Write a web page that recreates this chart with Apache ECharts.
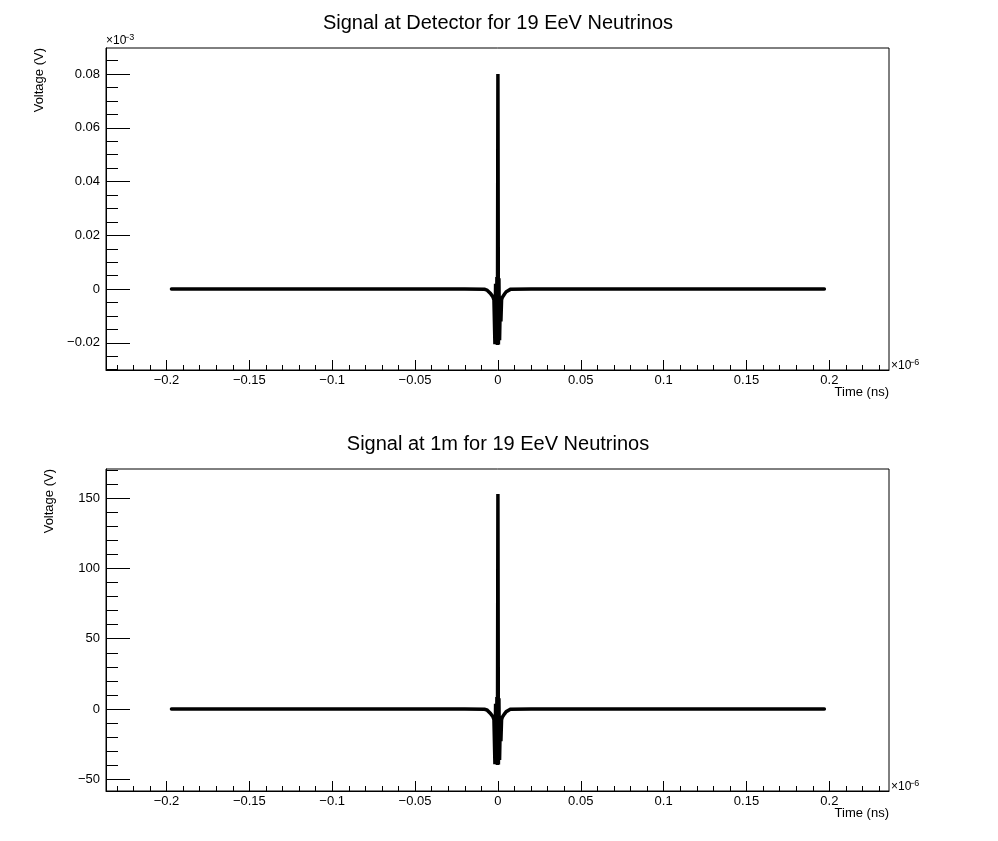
<!DOCTYPE html>
<html><head><meta charset="utf-8">
<script src="https://cdn.jsdelivr.net/npm/echarts@6/dist/echarts.min.js"></script>
<style>html,body{margin:0;padding:0;background:#fff}#c{width:998px;height:841px}</style>
</head><body><div id="c"></div>
<script>
// Time in units of 1e-6 ns (as shown with the x10^-6 multiplier)
const time = [-0.197, -0.1, -0.02, -0.008, -0.0065, -0.0055, -0.0045, -0.0037, -0.003, -0.0024, -0.0018, -0.0014, -0.001, -0.0006, -0.0003, 0, 0.0003, 0.0006, 0.001, 0.0014, 0.0018, 0.0022, 0.0027, 0.0033, 0.004, 0.005, 0.006, 0.0075, 0.02, 0.1, 0.197];
// Voltage at detector, units of 1e-3 V
const voltageDetector = [0, 0, 0, -0.0001, -0.0004, -0.0009, -0.0016, -0.0023, -0.0029, -0.0040, -0.0205, 0.0020, -0.0200, 0.0045, -0.0208, 0.0800, -0.0206, 0.0040, -0.0190, -0.0060, -0.0120, -0.0040, -0.0030, -0.0025, -0.0018, -0.0010, -0.0005, -0.0001, 0, 0, 0];
// Voltage at 1 m, V
const voltage1m = [0, 0, 0, -0.2, -0.8, -1.7, -3.1, -4.4, -5.5, -7.6, -39.2, 3.8, -38.2, 8.6, -39.8, 152.9, -39.4, 7.6, -36.3, -11.5, -22.9, -7.6, -5.7, -4.8, -3.4, -1.9, -1.0, -0.2, 0, 0, 0];

const titles = ['Signal at Detector for 19 EeV Neutrinos', 'Signal at 1m for 19 EeV Neutrinos'];
const xMajorTicks = [-0.2, -0.15, -0.1, -0.05, 0, 0.05, 0.1, 0.15, 0.2];
const xMinorStep = 0.01;
const yTopMajorTicks = [-0.02, 0, 0.02, 0.04, 0.06, 0.08];
const yTopMinorStep = 0.005;
const yBotMajorTicks = [-50, 0, 50, 100, 150];
const yBotMinorStep = 10;

const X_MIN = -0.2365, X_MAX = 0.2360;
const YT_MIN = -0.0301, YT_MAX = 0.0897;
const YB_MIN = -58.3, YB_MAX = 170.7;

function range(min, max, step) {
  const out = [];
  const s = Math.ceil(min / step - 1e-9), e = Math.floor(max / step + 1e-9);
  for (let i = s; i <= e; i++) out.push(+(i * step).toFixed(6));
  return out;
}
const FONT = "'Liberation Sans', Arial, Helvetica, sans-serif";
const fmt = v => { if (Math.abs(v) < 1e-12) return '0'; return String(+(+v).toFixed(6)).replace('-', '\u2212'); };

const grids = [
  { left: 106, top: 48, width: 783, height: 322 },
  { left: 106, top: 469, width: 783, height: 322 }
].map(g => Object.assign(g, { show: true, borderColor: '#000', borderWidth: 1, backgroundColor: 'transparent' }));

function xAxes(gi) {
  return [
    { type: 'value', gridIndex: gi, min: X_MIN, max: X_MAX, position: 'bottom',
      axisLine: { show: true, onZero: false, lineStyle: { color: '#000', width: 1 } },
      axisTick: { show: true, inside: true, length: 10, customValues: xMajorTicks, lineStyle: { color: '#000', width: 1 } },
      axisLabel: { show: true, customValues: xMajorTicks, formatter: fmt, color: '#000', fontSize: 13, fontFamily: FONT, margin: 4 },
      splitLine: { show: false } },
    { type: 'value', gridIndex: gi, min: X_MIN, max: X_MAX, position: 'bottom',
      axisLine: { show: false, onZero: false },
      axisTick: { show: true, inside: true, length: 5, customValues: range(X_MIN, X_MAX, xMinorStep), lineStyle: { color: '#000', width: 1 } },
      axisLabel: { show: false }, splitLine: { show: false } }
  ];
}
function yAxes(gi, min, max, major, minorStep) {
  return [
    { type: 'value', gridIndex: gi, min, max, position: 'left',
      axisLine: { show: true, onZero: false, lineStyle: { color: '#000', width: 1 } },
      axisTick: { show: true, inside: true, length: 24, customValues: major, lineStyle: { color: '#000', width: 1 } },
      axisLabel: { show: true, customValues: major, formatter: fmt, color: '#000', fontSize: 13, fontFamily: FONT, margin: 6 },
      splitLine: { show: false } },
    { type: 'value', gridIndex: gi, min, max, position: 'left',
      axisLine: { show: false, onZero: false },
      axisTick: { show: true, inside: true, length: 12, customValues: range(min, max, minorStep), lineStyle: { color: '#000', width: 1 } },
      axisLabel: { show: false }, splitLine: { show: false } }
  ];
}

function txt(text, x, y, size, align, valign, rot) {
  return { type: 'text', x, y, rotation: rot || 0, silent: true,
    style: { text, font: size + 'px ' + FONT, fill: '#000', textAlign: align, textVerticalAlign: valign } };
}

const graphics = [];
[0, 421].forEach((dy, i) => {
  graphics.push(txt(titles[i], 498, 23 + dy, 20, 'center', 'middle'));
  graphics.push(txt('Time (ns)', 889, 392 + dy, 13, 'right', 'middle'));
  graphics.push(txt('\u00d710', 891, 372 + dy, 12, 'left', 'bottom'));
  graphics.push(txt('\u22126', 909, 367 + dy, 9, 'left', 'bottom'));
});
graphics.push(txt('Voltage (V)', 39, 48, 13, 'right', 'middle', Math.PI / 2));
graphics.push(txt('Voltage (V)', 49, 469, 13, 'right', 'middle', Math.PI / 2));
graphics.push(txt('\u00d710', 106, 47, 12, 'left', 'bottom'));
graphics.push(txt('\u22123', 124, 42, 9, 'left', 'bottom'));

const chart = echarts.init(document.getElementById('c'), null, { renderer: 'canvas' });
chart.setOption({
  animation: false,
  backgroundColor: '#fff',
  grid: grids,
  xAxis: [...xAxes(0), ...xAxes(1)],
  yAxis: [...yAxes(0, YT_MIN, YT_MAX, yTopMajorTicks, yTopMinorStep), ...yAxes(1, YB_MIN, YB_MAX, yBotMajorTicks, yBotMinorStep)],
  series: [
    { type: 'line', xAxisIndex: 0, yAxisIndex: 0, data: time.map((t, i) => [t, voltageDetector[i]]),
      showSymbol: false, symbol: 'none', lineStyle: { color: '#000', width: 3.5, cap: 'round', join: 'miter' } },
    { type: 'line', xAxisIndex: 2, yAxisIndex: 2, data: time.map((t, i) => [t, voltage1m[i]]),
      showSymbol: false, symbol: 'none', lineStyle: { color: '#000', width: 3.5, cap: 'round', join: 'miter' } }
  ],
  graphic: graphics
});
</script></body></html>
